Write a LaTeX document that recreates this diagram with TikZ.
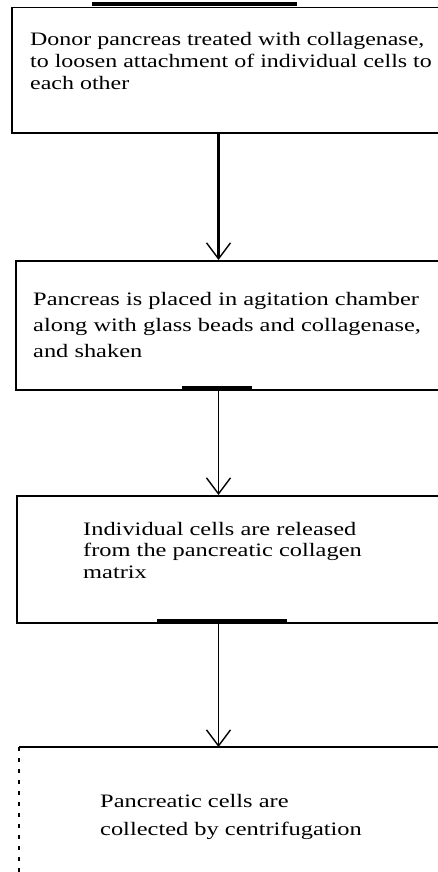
\documentclass[tikz,border=0pt]{standalone}
\usepackage{fontspec}
\setmainfont{Liberation Serif}
\newfontfamily\scanfont[FakeStretch=1.285]{Liberation Serif}
\newfontfamily\scanfontnarrow[FakeStretch=1.26]{Liberation Serif}
\usetikzlibrary{arrows.meta}

\begin{document}
\begin{tikzpicture}[x=1pt,y=-1pt,
  stepbox/.style={line width=1.5pt,anchor=north west,inner sep=0pt,minimum width=440pt},
  steptext/.style={anchor=north west,align=left,inner sep=0pt,
    font=\scanfont\fontsize{19}{#1}\selectfont},
  flow/.style={line width=1.5pt,-{Straight Barb[length=16pt,width=24pt,line width=1.4pt]}},
  scanbar/.style={line width=4pt}]
\useasboundingbox (0,0) rectangle (438,872);
\clip (0,0) rectangle (438,872);
\coordinate (spine) at (218.5,0);
% the four steps
\node[stepbox,draw,minimum height=125pt] (b1) at (11,7) {};
\node[stepbox,draw,minimum height=129pt] (b2) at (15,260) {};
\node[stepbox,draw,minimum height=127pt] (b3) at (16,495) {};
\node[stepbox,minimum height=140pt] (b4) at (19,747) {};
\draw[line width=1.5pt] (b4.north west) -- (b4.north east);
\draw[line width=1.2pt,dash pattern=on 4pt off 7pt] (b4.north west) -- (b4.south west);
% heavier strokes on the scan
\draw[scanbar] (92,4) -- (297,4);
\draw[scanbar] (182,388) -- (252,388);
\draw[scanbar] (157,621) -- (287,621);
\node[steptext=22,font=\scanfontnarrow\fontsize{19}{22}\selectfont] (t1) at (30,32)
  {Donor pancreas treated with collagenase,\\
  to loosen attachment of individual cells to\\ each other};
\node[steptext=26] (t2) at (33,292) {Pancreas is placed in agitation chamber\\
  along with glass beads and collagenase,\\ and shaken};
\node[steptext=21.5] (t3) at (83,522) {Individual cells are released\\
  from the pancreatic collagen\\ matrix};
\node[steptext=28] (t4) at (100,794) {Pancreatic cells are\\ collected by centrifugation};
% arrows
\draw[flow,line width=2.6pt] (spine |- b1.south) -- (spine |- b2.north);
\draw[flow] (spine |- b2.south) -- (spine |- b3.north);
\draw[flow] (spine |- b3.south) -- (spine |- b4.north);
\end{tikzpicture}
\end{document}
